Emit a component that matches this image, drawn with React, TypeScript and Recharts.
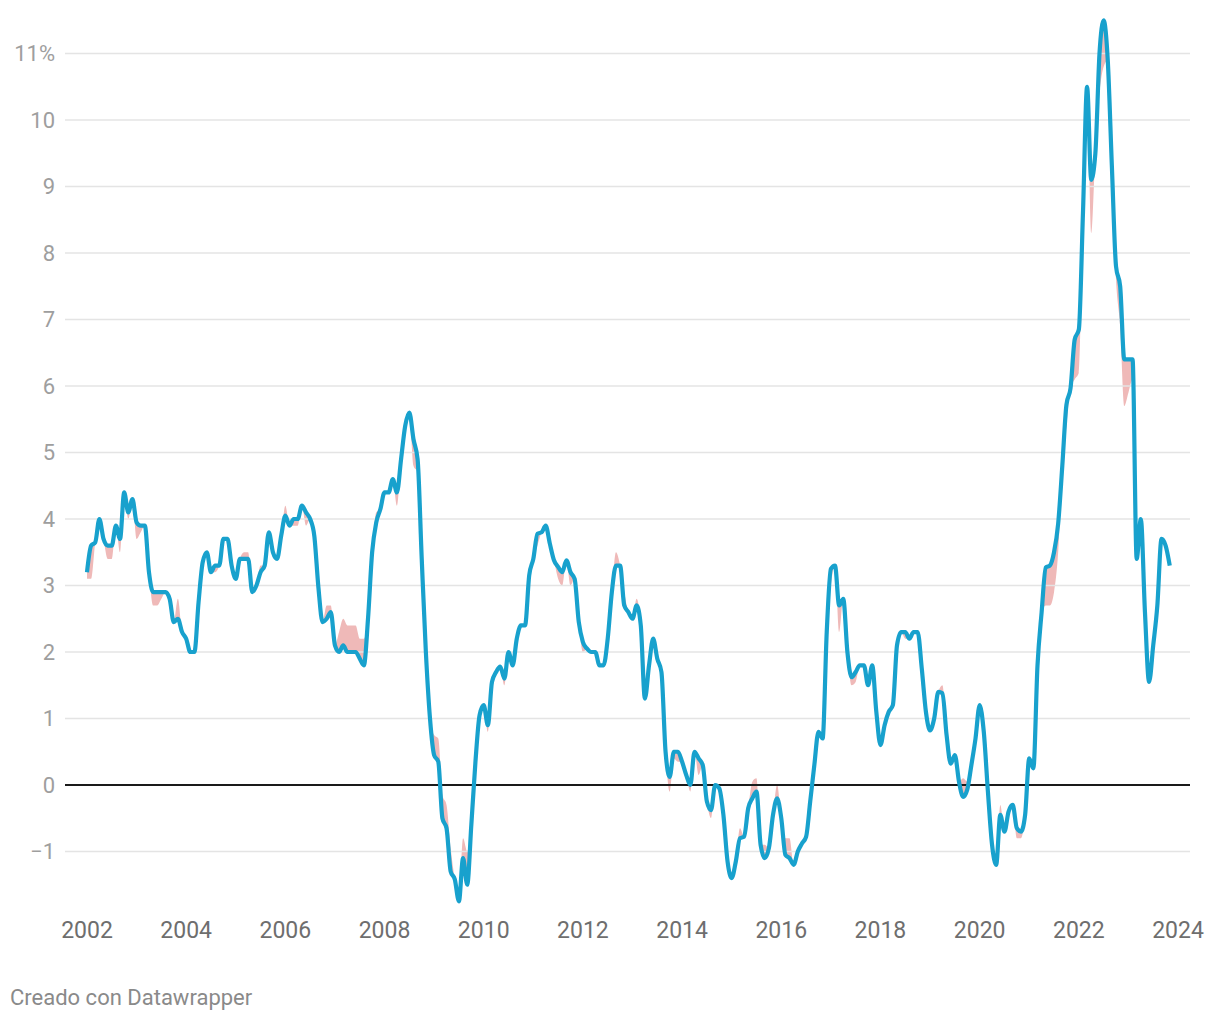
import React from "react";
import {
  ComposedChart,
  Line,
  Area,
  XAxis,
  YAxis,
  ReferenceLine,
} from "recharts";

// Monthly series, Jan 2002 .. Nov 2023 (annual rate, %)
const ipc: number[] = [
  // 2002
  3.2, 3.6, 3.65, 4.0, 3.7, 3.6, 3.6, 3.9, 3.7, 4.4, 4.1, 4.3,
  // 2003
  3.95, 3.9, 3.9, 3.2, 2.9, 2.9, 2.9, 2.9, 2.8, 2.45, 2.5, 2.3,
  // 2004
  2.2, 2.0, 2.0, 2.75, 3.35, 3.5, 3.2, 3.3, 3.3, 3.7, 3.7, 3.3,
  // 2005
  3.1, 3.4, 3.4, 3.4, 2.9, 3.0, 3.2, 3.3, 3.8, 3.5, 3.4, 3.75,
  // 2006
  4.05, 3.9, 4.0, 4.0, 4.2, 4.1, 4.0, 3.75, 2.97, 2.45, 2.5, 2.6,
  // 2007
  2.1, 2.0, 2.1, 2.0, 2.0, 2.0, 1.9, 1.8, 2.5, 3.5, 3.95, 4.15,
  // 2008
  4.4, 4.4, 4.6, 4.4, 4.9, 5.4, 5.6, 5.2, 4.9, 3.4, 2.0, 1.0,
  // 2009
  0.45, 0.35, -0.5, -0.65, -1.3, -1.42, -1.75, -1.1, -1.5, -0.6, 0.35, 1.05,
  // 2010
  1.2, 0.9, 1.55, 1.7, 1.78, 1.6, 2.0, 1.8, 2.2, 2.4, 2.4, 3.15,
  // 2011
  3.4, 3.78, 3.8, 3.9, 3.63, 3.38, 3.28, 3.2, 3.38, 3.2, 3.1, 2.45,
  // 2012
  2.15, 2.05, 2.0, 2.0, 1.8, 1.8, 2.2, 2.9, 3.3, 3.3, 2.7, 2.6,
  // 2013
  2.5, 2.7, 2.4, 1.3, 1.8, 2.2, 1.9, 1.7, 0.5, 0.12, 0.5, 0.5,
  // 2014
  0.35, 0.15, 0.0, 0.5, 0.4, 0.3, -0.25, -0.38, 0.0, -0.05, -0.45, -1.15,
  // 2015
  -1.4, -1.15, -0.8, -0.78, -0.35, -0.2, -0.1, -0.9, -1.1, -0.95, -0.45, -0.2,
  // 2016
  -0.5, -1.05, -1.1, -1.2, -1.0, -0.88, -0.78, -0.25, 0.3, 0.8, 0.7, 2.3,
  // 2017
  3.25, 3.3, 2.7, 2.8, 2.0, 1.62, 1.7, 1.8, 1.8, 1.5, 1.8, 1.1,
  // 2018
  0.6, 0.9, 1.1, 1.2, 2.1, 2.3, 2.3, 2.2, 2.3, 2.3, 1.75, 1.1,
  // 2019
  0.82, 1.0, 1.4, 1.38, 0.75, 0.32, 0.45, 0.05, -0.18, -0.07, 0.3, 0.7,
  // 2020
  1.2, 0.8, -0.1, -0.9, -1.2, -0.45, -0.7, -0.4, -0.3, -0.65, -0.7, -0.45,
  // 2021
  0.4, 0.25, 1.8, 2.6, 3.27, 3.3, 3.5, 3.93, 4.8, 5.72, 5.97, 6.7,
  // 2022
  6.85, 8.6, 10.5, 9.1, 9.5, 11.0, 11.5, 10.9, 9.3, 7.8, 7.5, 6.4,
  // 2023
  6.4, 6.4, 3.4, 4.0, 2.6, 1.55, 2.1, 2.7, 3.7, 3.6, 3.3,
];

// Comparison series (other edge of the shaded band)
const ipcRef: number[] = [
  // 2002
  3.1, 3.1, 3.65, 4.0, 3.7, 3.4, 3.4, 3.9, 3.5, 4.4, 4.0, 4.3,
  // 2003
  3.7, 3.8, 3.9, 3.2, 2.7, 2.7, 2.8, 2.9, 2.8, 2.45, 2.8, 2.3,
  // 2004
  2.2, 2.0, 2.0, 2.75, 3.35, 3.5, 3.2, 3.2, 3.3, 3.7, 3.7, 3.3,
  // 2005
  3.1, 3.4, 3.5, 3.5, 2.9, 3.0, 3.3, 3.3, 3.8, 3.5, 3.4, 3.75,
  // 2006
  4.2, 3.9, 3.9, 3.9, 4.2, 3.9, 4.0, 3.75, 2.97, 2.45, 2.7, 2.7,
  // 2007
  2.1, 2.3, 2.5, 2.4, 2.4, 2.4, 2.2, 2.2, 2.5, 3.5, 4.1, 4.15,
  // 2008
  4.4, 4.4, 4.6, 4.2, 4.9, 5.4, 5.6, 4.8, 4.7, 3.4, 2.0, 1.0,
  // 2009
  0.75, 0.7, -0.15, -0.3, -0.95, -1.42, -1.75, -0.8, -1.0, -0.6, 0.35, 1.05,
  // 2010
  1.2, 0.8, 1.55, 1.7, 1.78, 1.5, 2.0, 1.8, 2.2, 2.4, 2.4, 3.15,
  // 2011
  3.4, 3.6, 3.8, 3.9, 3.63, 3.38, 3.1, 3.0, 3.38, 3.0, 3.1, 2.45,
  // 2012
  2.0, 2.05, 2.0, 2.0, 1.8, 1.8, 2.2, 2.9, 3.5, 3.3, 2.9, 2.6,
  // 2013
  2.5, 2.8, 2.4, 1.3, 1.8, 2.2, 1.9, 1.7, 0.5, -0.1, 0.4, 0.35,
  // 2014
  0.35, 0.15, -0.1, 0.5, 0.15, 0.3, -0.25, -0.5, 0.0, -0.05, -0.45, -1.15,
  // 2015
  -1.4, -1.15, -0.65, -0.78, -0.35, 0.05, 0.1, -0.9, -0.9, -0.95, -0.45, 0.0,
  // 2016
  -0.5, -0.8, -0.8, -1.2, -1.0, -0.88, -0.7, -0.25, 0.3, 0.8, 0.7, 2.3,
  // 2017
  3.0, 3.3, 2.3, 2.8, 2.0, 1.5, 1.55, 1.8, 1.8, 1.5, 1.8, 1.1,
  // 2018
  0.6, 0.9, 1.1, 1.2, 2.1, 2.3, 2.2, 2.2, 2.3, 2.3, 1.75, 1.1,
  // 2019
  0.82, 1.0, 1.4, 1.5, 0.75, 0.32, 0.45, 0.05, 0.1, 0.05, 0.3, 0.7,
  // 2020
  1.2, 0.8, -0.1, -0.9, -1.2, -0.3, -0.7, -0.4, -0.3, -0.8, -0.8, -0.45,
  // 2021
  0.4, 0.25, 1.8, 2.6, 2.7, 2.7, 2.9, 3.5, 4.8, 5.4, 5.97, 6.1,
  // 2022
  6.2, 8.6, 10.5, 8.3, 9.5, 10.4, 10.8, 10.9, 9.3, 7.6, 6.9, 5.7,
  // 2023
  5.9, 6.1, 3.4, 4.0, 2.6, 1.55, 2.1, 2.7, 3.7, 3.6, 3.3,
];

const startYear = 2002;
const yearTicks: number[] = [2002, 2004, 2006, 2008, 2010, 2012, 2014, 2016, 2018, 2020, 2022, 2024];
const valueTicks: number[] = [-1, 0, 1, 2, 3, 4, 5, 6, 7, 8, 9, 10, 11];

const data = ipc.map((v, i) => ({
  t: i,
  ipc: v,
  band: [ipcRef[i], v],
}));

const monthOf = (year: number) => (year - startYear) * 12;

const BLUE = "#18a1cd";
const PINK = "#efb9b8";
const FONT = "Roboto, 'Noto Sans', sans-serif";

const YTick = (props: any) => {
  const { x, y, payload } = props;
  const v = payload.value;
  const label = v === 11 ? "11%" : v < 0 ? "\u2212" + Math.abs(v) : String(v);
  return (
    <text x={x} y={y} dy="0.36em" textAnchor="end" fill="#9e9e9e" fontSize={22} fontFamily={FONT}>
      {label}
    </text>
  );
};

const XTick = (props: any) => {
  const { x, y, payload } = props;
  return (
    <text x={x} y={y} dy="0.71em" textAnchor="middle" fill="#6e6e6e" fontSize={23} fontFamily={FONT}>
      {startYear + payload.value / 12}
    </text>
  );
};

export default function App() {
  return (
    <div style={{ position: "absolute", left: 0, top: 0, width: 1220, height: 1020, background: "#fff" }}>
      <ComposedChart
        width={1220}
        height={960}
        data={data}
        margin={{ top: 17, right: 30, bottom: 12, left: 0 }}
      >
        <XAxis
          dataKey="t"
          type="number"
          domain={[-5.32, 266.9]}
          ticks={yearTicks.map(monthOf)}
          tick={<XTick />}
          axisLine={false}
          tickLine={false}
          tickMargin={8}
          height={40}
          interval={0}
        />
        <YAxis
          type="number"
          domain={[-1.85, 11.55]}
          ticks={valueTicks}
          tick={<YTick />}
          axisLine={false}
          tickLine={false}
          tickMargin={4}
          width={65}
          interval={0}
        />
        {valueTicks
          .filter((v) => v !== 0)
          .map((v) => (
            <ReferenceLine key={v} y={v} stroke="#e4e4e4" strokeWidth={1.6} />
          ))}
        <ReferenceLine y={0} stroke="#1a1a1a" strokeWidth={2} />
        <Area
          type="monotone"
          dataKey="band"
          stroke="none"
          fill={PINK}
          fillOpacity={1}
          isAnimationActive={false}
          activeDot={false}
        />
        <Line
          type="monotone"
          dataKey="ipc"
          stroke={BLUE}
          strokeWidth={4.2}
          dot={false}
          activeDot={false}
          isAnimationActive={false}
          strokeLinejoin="round"
          strokeLinecap="butt"
        />
      </ComposedChart>
      <div
        style={{
          position: "absolute",
          left: 10,
          top: 985,
          fontFamily: FONT,
          fontSize: 22,
          color: "#8a8a8a",
          lineHeight: "26px",
          whiteSpace: "nowrap",
        }}
      >
        Creado con Datawrapper
      </div>
    </div>
  );
}
